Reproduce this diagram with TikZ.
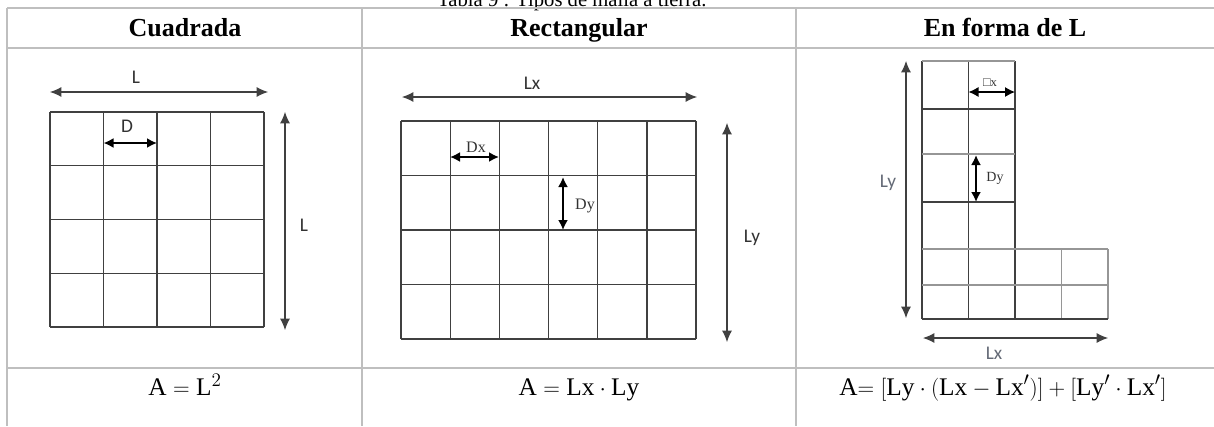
\documentclass[tikz,border=0pt]{standalone}
\usepackage{fontspec}
\setmainfont{Liberation Serif}
\newfontfamily\labelsans{Carlito}
\usepackage{xcolor}
\usepackage{tikz}
\usetikzlibrary{arrows.meta, positioning}
\definecolor{tablegray}{RGB}{191,191,191}
\definecolor{gridgray}{RGB}{64,64,64}
\definecolor{lightgrid}{RGB}{150,150,150}
\definecolor{labelgray}{RGB}{50,50,50}
\definecolor{softlabel}{RGB}{100,106,118}

\begin{document}
\begin{tikzpicture}[
    x=0.75pt, y=-0.75pt,
    tabline/.style={draw=tablegray, line width=1.5pt},
    gridline/.style={draw=gridgray, line width=1pt},
    softgrid/.style={draw=lightgrid, line width=1pt},
    dimline/.style={draw=gridgray, line width=0.8pt, {Latex[length=8.5pt,width=7.5pt]}-{Latex[length=8.5pt,width=7.5pt]}},
    cellarrow/.style={draw=black, line width=1.4pt, {Latex[length=7.5pt,width=7.5pt]}-{Latex[length=7.5pt,width=7.5pt]}},
    headtext/.style={font=\fontsize{19.5}{22}\selectfont\bfseries, anchor=base},
    formula/.style={font=\fontsize{19}{22}\selectfont, anchor=base},
    sanslabel/.style={font=\labelsans\fontsize{14.5}{16}\selectfont, text=labelgray},
    seriflabel/.style={font=\fontsize{12}{14}\selectfont, text=labelgray},
]
    \clip (0,0) rectangle (1214,426);
    % caption, cut at the top
    \node[anchor=base west, font=\fontsize{15.5}{18}\selectfont, inner sep=0pt] (caption) at (437,6) {Tabla 9 : Tipos de malla a tierra.};

    % table
    \draw[tabline] (7,8) -- (1214,8) (7,48) -- (1214,48) (7,368) -- (1214,368);
    \foreach \cx in {7,362,796}
        \draw[tabline] (\cx,8) -- (\cx,426);
    \node[headtext] (hsquare) at (185,36) {Cuadrada};
    \node[headtext] (hrect) at (579,36) {Rectangular};
    \node[headtext] (hlshape) at (1005,36) {En forma de L};
    \node[formula] (fsquare) at (185,395) {$\mathrm{A} = \mathrm{L}^2$};
    \node[formula] (frect) at (579,395) {$\mathrm{A} = \mathrm{Lx}\cdot\mathrm{Ly}$};
    \node[formula] (flshape) at (1003,395) {$\mathrm{A}{=}\ [\mathrm{Ly}\cdot(\mathrm{Lx}-\mathrm{Lx}')] + [\mathrm{Ly}'\cdot\mathrm{Lx}']$};

    % square mesh
    \foreach \i in {0,...,4} {
        \draw[gridline] ({50+53.5*\i},112) -- ({50+53.5*\i},327);
        \draw[gridline] (50,{112+53.75*\i}) -- (264,{112+53.75*\i});
    }
    \coordinate (sqtopA) at (50,92);
    \coordinate (sqtopB) at (268,92);
    \coordinate (sqsideA) at (285,112);
    \coordinate (sqsideB) at (285,330);
    \coordinate (sqcellA) at (103.5,143);
    \coordinate (sqcellB) at (157,143);
    \draw[dimline] (sqtopA) -- (sqtopB);
    \draw[dimline] (sqsideA) -- (sqsideB);
    \draw[cellarrow] (sqcellA) -- (sqcellB);
    \node[sanslabel] (sqL) at (136,77) {L};
    \node[sanslabel] (sqLside) at (304,225) {L};
    \node[sanslabel] (sqD) at (127,126) {D};

    % rectangular mesh
    \foreach \i in {0,...,6}
        \draw[gridline] ({401+49.17*\i},121) -- ({401+49.17*\i},339);
    \foreach \j in {0,...,4}
        \draw[gridline] (401,{121+54.5*\j}) -- (696,{121+54.5*\j});
    \coordinate (rctopA) at (402,97);
    \coordinate (rctopB) at (697,97);
    \coordinate (rcsideA) at (727,123);
    \coordinate (rcsideB) at (727,342);
    \coordinate (rcdxA) at (450,157);
    \coordinate (rcdxB) at (499,157);
    \coordinate (rcdyA) at (563,177);
    \coordinate (rcdyB) at (563,230);
    \draw[dimline] (rctopA) -- (rctopB);
    \draw[dimline] (rcsideA) -- (rcsideB);
    \draw[cellarrow] (rcdxA) -- (rcdxB);
    \draw[cellarrow] (rcdyA) -- (rcdyB);
    \node[sanslabel] (rcLx) at (532,83) {Lx};
    \node[sanslabel] (rcLy) at (752,238) {Ly};
    \node[seriflabel] (rcDx) at (476,147) {Dx};
    \node[seriflabel] (rcDy) at (585,206) {Dy};

    % L-shaped mesh
    \foreach \i in {0,1,2}
        \draw[gridline] ({922+46.5*\i},61) -- ({922+46.5*\i},319);
    \foreach \i in {3,4}
        \draw[softgrid] ({922+46.5*\i},249) -- ({922+46.5*\i},319);
    \foreach \y in {61,154}
        \draw[softgrid] (922,\y) -- (1015,\y);
    \foreach \y in {109,202}
        \draw[gridline] (922,\y) -- (1015,\y);
    \foreach \y in {249,285}
        \draw[softgrid] (922,\y) -- (1108,\y);
    \draw[gridline] (922,319) -- (1108,319);
    \coordinate (lsideA) at (906,61);
    \coordinate (lsideB) at (906,318);
    \coordinate (lbotA) at (923,338);
    \coordinate (lbotB) at (1108,338);
    \coordinate (ldxA) at (968.5,92);
    \coordinate (ldxB) at (1015,92);
    \coordinate (ldyA) at (976,155);
    \coordinate (ldyB) at (976,202);
    \draw[dimline] (lsideA) -- (lsideB);
    \draw[dimline] (lbotA) -- (lbotB);
    \draw[cellarrow, line width=0.9pt] (ldxA) -- (ldxB);
    \draw[cellarrow] (ldyA) -- (ldyB);
    \node[sanslabel, text=softlabel] (lLy) at (888,183) {Ly};
    \node[sanslabel, text=softlabel] (lLx) at (994,353) {Lx};
    \node[seriflabel, font=\fontsize{9.5}{11}\selectfont] (lDx) at (990,83) {□x};
    \node[seriflabel, font=\fontsize{10.5}{12}\selectfont] (lDy) at (995,178) {Dy};
\end{tikzpicture}
\end{document}
